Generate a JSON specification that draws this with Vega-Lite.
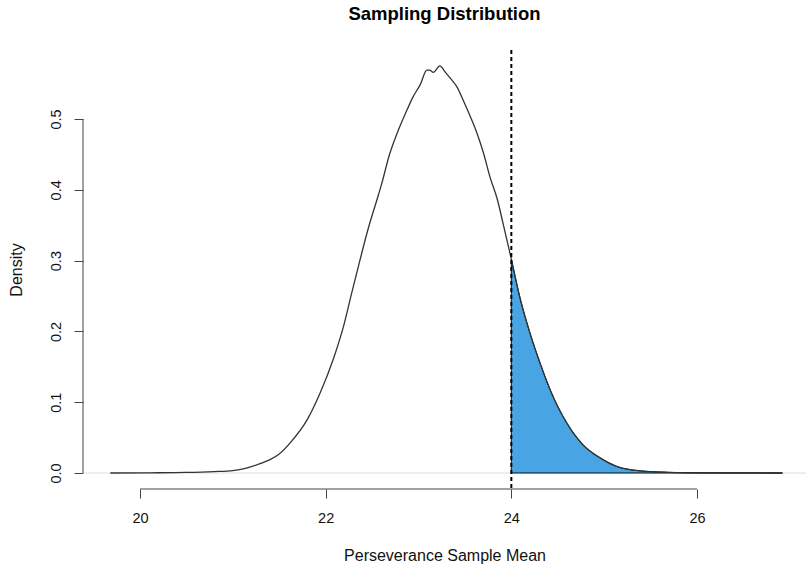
{
  "$schema": "https://vega.github.io/schema/vega-lite/v6.json",
  "width": 723,
  "height": 439,
  "autosize": {"type": "none"},
  "padding": {"left": 83, "top": 50, "right": 0, "bottom": 76},
  "background": "white",
  "data": {"values": [{}]},
  "config": {
    "view": {"stroke": null},
    "font": "Liberation Sans",
    "axis": {
      "labelFont": "Liberation Sans",
      "titleFont": "Liberation Sans",
      "labelColor": "#111",
      "titleColor": "#111",
      "titleFontWeight": "normal",
      "labelFontSize": 14.5,
      "titleFontSize": 16,
      "tickColor": "#444",
      "tickSize": 9,
      "grid": false,
      "domain": false
    }
  },
  "title": {
    "text": "Sampling Distribution",
    "font": "Liberation Sans",
    "fontSize": 18.5,
    "fontWeight": "bold",
    "color": "#000",
    "anchor": "middle",
    "offset": 26
  },
  "datasets": {
    "dens": [
      {"x": 19.68, "y": 0},
      {"x": 20.1, "y": 0.0003},
      {"x": 20.5, "y": 0.0008},
      {"x": 20.8, "y": 0.002},
      {"x": 21.0, "y": 0.0035},
      {"x": 21.1, "y": 0.0055},
      {"x": 21.2, "y": 0.009},
      {"x": 21.3, "y": 0.0135},
      {"x": 21.4, "y": 0.019},
      {"x": 21.5, "y": 0.027},
      {"x": 21.62, "y": 0.043},
      {"x": 21.8, "y": 0.075},
      {"x": 21.94, "y": 0.113},
      {"x": 22.08, "y": 0.16},
      {"x": 22.19, "y": 0.206},
      {"x": 22.28, "y": 0.254},
      {"x": 22.37, "y": 0.301},
      {"x": 22.46, "y": 0.346},
      {"x": 22.55, "y": 0.385},
      {"x": 22.6, "y": 0.407},
      {"x": 22.69, "y": 0.451},
      {"x": 22.77, "y": 0.48},
      {"x": 22.86, "y": 0.508},
      {"x": 22.94, "y": 0.531},
      {"x": 23.02, "y": 0.549},
      {"x": 23.09, "y": 0.569},
      {"x": 23.12, "y": 0.569},
      {"x": 23.16, "y": 0.566},
      {"x": 23.23, "y": 0.575},
      {"x": 23.29, "y": 0.566},
      {"x": 23.34, "y": 0.558},
      {"x": 23.42, "y": 0.544},
      {"x": 23.48, "y": 0.527},
      {"x": 23.56, "y": 0.503},
      {"x": 23.63, "y": 0.48},
      {"x": 23.7, "y": 0.452},
      {"x": 23.77, "y": 0.418},
      {"x": 23.85, "y": 0.386},
      {"x": 23.91, "y": 0.353},
      {"x": 24.0, "y": 0.302},
      {"x": 24.09, "y": 0.249},
      {"x": 24.2, "y": 0.198},
      {"x": 24.31, "y": 0.155},
      {"x": 24.42, "y": 0.117},
      {"x": 24.6, "y": 0.07},
      {"x": 24.77, "y": 0.04},
      {"x": 24.96, "y": 0.021},
      {"x": 25.14, "y": 0.009},
      {"x": 25.39, "y": 0.003},
      {"x": 25.68, "y": 0.001},
      {"x": 26.03, "y": 0.0003},
      {"x": 26.5, "y": 0.0001},
      {"x": 26.92, "y": 0}
    ]
  },
  "layer": [
    {
      "mark": {"type": "rule", "color": "#dcdcdc", "strokeWidth": 1},
      "encoding": {"y": {"datum": 0, "type": "quantitative"}}
    },
    {
      "data": {"name": "dens"},
      "transform": [{"filter": "datum.x >= 24"}],
      "mark": {"type": "area", "color": "#48A4E2", "stroke": "#111", "strokeWidth": 1, "opacity": 1, "interpolate": "monotone"},
      "encoding": {
        "x": {"field": "x", "type": "quantitative"},
        "y": {"field": "y", "type": "quantitative"}
      }
    },
    {
      "data": {"name": "dens"},
      "mark": {"type": "line", "color": "#333", "strokeWidth": 1.3, "interpolate": "monotone"},
      "encoding": {
        "x": {
          "field": "x",
          "type": "quantitative",
          "scale": {"domain": [19.386, 27.174], "nice": false, "zero": false},
          "axis": {
            "values": [20, 22, 24, 26],
            "format": "d",
            "title": "Perseverance Sample Mean",
            "labelPadding": 13,
            "titlePadding": 23
          }
        },
        "y": {
          "field": "y",
          "type": "quantitative",
          "scale": {"domain": [-0.0226, 0.5975], "nice": false, "zero": false},
          "axis": {
            "values": [0, 0.1, 0.2, 0.3, 0.4, 0.5],
            "format": ".1f",
            "title": "Density",
            "labelAngle": 270,
            "labelPadding": 11,
            "titlePadding": 24
          }
        }
      }
    },
    {
      "mark": {"type": "rule", "color": "#000", "strokeWidth": 2, "strokeDash": [4, 3]},
      "encoding": {"x": {"datum": 24, "type": "quantitative"}}
    },
    {
      "mark": {"type": "rule", "color": "#444", "strokeWidth": 1},
      "encoding": {
        "x": {"datum": 19.386, "type": "quantitative"},
        "y": {"datum": 0, "type": "quantitative"},
        "y2": {"datum": 0.5}
      }
    },
    {
      "mark": {"type": "rule", "color": "#444", "strokeWidth": 1},
      "encoding": {
        "y": {"datum": -0.0226, "type": "quantitative"},
        "x": {"datum": 20, "type": "quantitative"},
        "x2": {"datum": 26}
      }
    }
  ]
}
